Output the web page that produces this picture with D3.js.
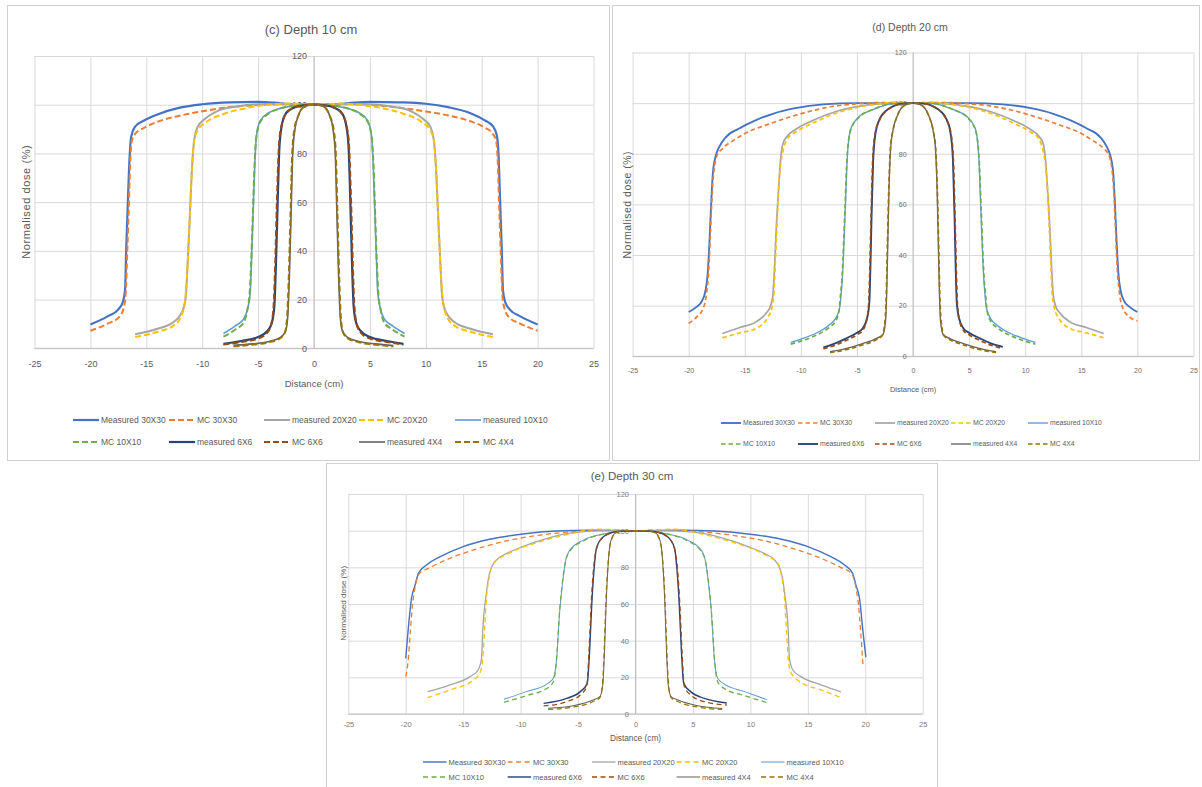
<!DOCTYPE html>
<meta charset="utf-8"/>
<style>
  body { margin: 0; background: #fff; }
  text { font-family: "Liberation Sans", Arial, sans-serif; }
</style>
<svg width="1202" height="787"></svg>
<script src="https://cdn.jsdelivr.net/npm/d3@7"></script>
<script>

var seriesNames = ["Measured 30X30", "MC 30X30", "measured 20X20", "MC 20X20", "measured 10X10",
                   "MC 10X10", "measured 6X6", "MC 6X6", "measured 4X4", "MC 4X4"];
var seriesColors = ["#4472C4", "#ED7D31", "#A5A5A5", "#FFC000", "#5B9BD5",
                    "#70AD47", "#264478", "#9E480E", "#636363", "#997300"];
var seriesDashed = [false, true, false, true, false, true, false, true, false, true];
var xTicks = [-25, -20, -15, -10, -5, 0, 5, 10, 15, 20, 25];
var yTicks = [0, 20, 40, 60, 80, 100, 120];

// depth 10 cm
var c_meas30 = [[-20,9.8],[-18.5,13],[-17.5,16],[-17.1,19],[-16.9,24],[-16.8,40],[-16.65,60],[-16.5,78],[-16.35,87],[-16,91],[-15.2,93.5],[-14,96],[-12,98.8],[-10,100.2],[-7.5,101],[-5,101.2],[-3,100.6],[-1.5,100.1],[0,100],[1.5,100.1],[3,100.6],[5,101.2],[7.5,101],[10,100.4],[12,99],[14,96.5],[15.2,93.8],[16,91.2],[16.35,87.5],[16.5,80],[16.65,60],[16.8,40],[16.9,24],[17.1,19],[17.5,16],[18.5,13],[20,9.8]];
var c_mc30 = [[-20,7.2],[-18.5,10],[-17.4,13],[-17,17],[-16.85,22],[-16.7,40],[-16.55,60],[-16.45,75],[-16.3,85],[-16,88],[-15.2,90.5],[-14,93],[-12,95.5],[-10,97.3],[-8,98.8],[-6,99.6],[-4,100.1],[-2,100.2],[0,100],[2,100.2],[4,100.1],[6,99.6],[8,98.6],[10,97.2],[12,95.6],[14,93.2],[15.2,90.8],[16,88],[16.3,85],[16.45,75],[16.55,60],[16.7,40],[16.85,22],[17,17],[17.4,13],[18.5,10],[20,7.2]];
var c_meas20 = [[-16,5.8],[-14,8],[-12.5,11],[-11.7,16],[-11.45,22],[-11.3,35],[-11.1,55],[-10.9,75],[-10.7,86],[-10.4,91],[-9.8,94],[-8.6,97.5],[-7,99.2],[-5,100.2],[-3,100.3],[-1.5,100.1],[0,100],[1.5,100.1],[3,100.3],[5,100.2],[7,99.2],[8.6,97.5],[9.8,94],[10.4,91],[10.7,86],[10.9,75],[11.1,55],[11.3,35],[11.45,22],[11.7,16],[12.5,11],[14,8],[16,5.8]];
var c_mc20 = [[-16,4.6],[-14,6.8],[-12.5,9.5],[-11.8,14],[-11.5,21],[-11.3,35],[-11.1,55],[-10.9,75],[-10.7,86],[-10.4,89.5],[-9.6,93],[-8,96.3],[-6,98.7],[-4,100],[-2.5,100.5],[-1,100.2],[0,100],[1,100.2],[2.5,100.5],[4,100],[6,98.7],[8,96.3],[9.6,93],[10.4,89.5],[10.7,86],[10.9,75],[11.1,55],[11.3,35],[11.5,21],[11.8,14],[12.5,9.5],[14,6.8],[16,4.6]];
var c_meas10 = [[-8.1,6.1],[-7,9.3],[-6.3,12],[-5.9,17],[-5.7,23],[-5.6,35],[-5.45,55],[-5.3,75],[-5.15,87],[-4.8,93.5],[-4,96.8],[-3,98.5],[-1.5,99.7],[0,100],[1.5,99.7],[3,98.5],[4,96.8],[4.8,93.5],[5.15,87],[5.3,75],[5.45,55],[5.6,35],[5.7,23],[5.9,17],[6.3,12],[7,9.3],[8.1,6.1]];
var c_mc10 = [[-8.1,4.8],[-7,7.8],[-6.3,10.5],[-5.95,16],[-5.75,23],[-5.62,35],[-5.47,55],[-5.32,75],[-5.15,87],[-4.8,93],[-4,96.5],[-3,98.5],[-1.5,99.7],[0,100],[1.5,99.7],[3,98.5],[4,96.5],[4.8,93],[5.15,87],[5.32,75],[5.47,55],[5.62,35],[5.75,23],[5.95,16],[6.3,10.5],[7,7.8],[8.1,4.8]];
var c_meas6 = [[-8.1,1.8],[-6.5,3],[-5,4.6],[-4.2,7],[-3.8,10],[-3.55,17],[-3.4,35],[-3.25,60],[-3.1,82],[-2.9,91],[-2.5,96.5],[-1.8,98.8],[-1,99.7],[0,100],[1,99.7],[1.8,98.8],[2.5,96.5],[2.9,91],[3.1,82],[3.25,60],[3.4,35],[3.55,17],[3.8,10],[4.2,7],[5,4.6],[6.5,3],[8,1.8]];
var c_mc6 = [[-8.1,1.5],[-6.5,2.6],[-5,4],[-4.2,6.3],[-3.85,9.5],[-3.62,17],[-3.47,35],[-3.32,60],[-3.15,82],[-2.95,90.5],[-2.5,96.3],[-1.8,98.8],[-1,99.7],[0,100],[1,99.7],[1.8,98.8],[2.5,96.3],[2.95,90.5],[3.15,82],[3.32,60],[3.47,35],[3.62,17],[3.85,9.5],[4.2,6.3],[5,4],[6.5,2.6],[8,1.5]];
var c_meas4 = [[-7.2,1.2],[-5.5,1.8],[-4,2.8],[-3,4.5],[-2.55,7],[-2.35,13],[-2.2,30],[-2.05,55],[-1.9,80],[-1.7,90],[-1.4,95.5],[-1,98.8],[-0.5,99.8],[0,100],[0.5,99.8],[1,98.8],[1.4,95.5],[1.7,90],[1.9,80],[2.05,55],[2.2,30],[2.35,13],[2.55,7],[3,4.5],[4,2.8],[5.5,1.8],[7.1,1.1]];
var c_mc4 = [[-7.2,0.8],[-5.5,1.5],[-4,2.5],[-3,4.2],[-2.6,6.5],[-2.4,13],[-2.25,30],[-2.1,55],[-1.95,80],[-1.75,90],[-1.4,95.5],[-1,98.8],[-0.5,99.8],[0,100],[0.5,99.8],[1,98.8],[1.4,95.5],[1.75,90],[1.95,80],[2.1,55],[2.25,30],[2.4,13],[2.6,6.5],[3,4.2],[4,2.5],[5.5,1.5],[7.1,0.8]];

// depth 20 cm
var d_meas30 = [[-20,17.5],[-19.3,19.5],[-18.8,22],[-18.5,26],[-18.3,33],[-18.15,45],[-18,60],[-17.85,72],[-17.6,79],[-17.3,82.5],[-16.7,86.5],[-15.5,90],[-14,93.3],[-12.5,95.8],[-10.5,98],[-8,99.5],[-5,100],[-2,100],[0,100],[2,100],[5,100],[8,99.5],[10.5,98],[12.5,95.8],[14,93.3],[15.5,90],[16.7,86.5],[17.3,82.5],[17.6,79],[17.85,72],[18,60],[18.15,45],[18.3,33],[18.5,26],[18.8,22],[19.3,19.5],[20,17.5]];
var d_mc30 = [[-20,13],[-19.3,15.5],[-18.7,19],[-18.4,25],[-18.2,35],[-18.05,50],[-17.9,65],[-17.7,75],[-17.5,79],[-17,82],[-16,85.3],[-15,88],[-13,91.5],[-11,94.5],[-9,97],[-7,98.8],[-5,99.7],[-3,100.2],[-1,100.2],[0,100],[1,100.2],[3,100.2],[5,99.7],[7,98.8],[9,97],[11,94.5],[13,91.5],[15,88],[16,85.3],[17,82],[17.5,79],[17.7,75],[17.9,65],[18.05,50],[18.2,35],[18.4,25],[18.7,19],[19.3,15.5],[20,14]];
var d_meas20 = [[-17,9],[-15.5,11.3],[-14,13.6],[-13.1,17],[-12.7,20],[-12.5,24],[-12.35,35],[-12.2,50],[-12,65],[-11.8,78],[-11.6,84],[-11.2,87],[-10.5,89.5],[-9,93],[-7,96.5],[-5,98.6],[-3,99.7],[-1,100],[0,100],[1,100],[3,99.7],[5,98.6],[7,96.5],[9,93],[10.5,89.5],[11.2,87],[11.6,84],[11.8,78],[12,65],[12.2,50],[12.35,35],[12.5,24],[12.7,20],[13.1,17],[14,13.6],[15.5,11.3],[17,9]];
var d_mc20 = [[-17,7.3],[-15.5,9.2],[-14,11],[-13,15],[-12.6,19],[-12.4,25],[-12.3,35],[-12.15,50],[-12,65],[-11.8,76],[-11.6,81],[-11.2,86],[-10.5,88.5],[-9,92],[-7,95.8],[-5,98.3],[-3,99.8],[-1.5,100.4],[0,100],[1.5,100.4],[3,99.8],[5,98.3],[7,95.8],[9,92],[10.5,88.5],[11.2,86],[11.6,81],[11.8,76],[12,65],[12.15,50],[12.3,35],[12.4,25],[12.6,19],[13,15],[14,11],[15.5,9.2],[17,7.3]];
var d_meas10 = [[-10.9,5.5],[-10,6.8],[-8.7,9],[-7.5,12.3],[-6.9,15],[-6.55,19],[-6.4,25],[-6.3,31],[-6.05,57],[-5.85,79.5],[-5.55,90],[-4.8,94.7],[-3.6,97.4],[-1.8,99.8],[0,100],[1.8,99.8],[3.6,97.4],[4.8,94.7],[5.55,90],[5.85,79.5],[6.05,57],[6.3,31],[6.4,25],[6.55,19],[6.9,15],[7.5,12.3],[8.7,9],[10,6.8],[10.9,5.5]];
var d_mc10 = [[-10.9,4.8],[-10,6],[-8.7,8.2],[-7.5,11.3],[-6.9,14],[-6.6,18],[-6.45,25],[-6.33,31],[-6.08,57],[-5.87,79.5],[-5.55,89.5],[-4.8,94.5],[-3.6,97.4],[-1.8,99.8],[0,100],[1.8,99.8],[3.6,97.4],[4.8,94.5],[5.55,89.5],[5.87,79.5],[6.08,57],[6.33,31],[6.45,25],[6.6,18],[6.9,14],[7.5,11.3],[8.7,8.2],[10,6],[10.9,4.8]];
var d_meas6 = [[-8,3.5],[-7,5],[-6,7],[-5,9.3],[-4.5,11],[-4.1,15],[-3.9,21],[-3.8,35],[-3.7,55],[-3.56,77],[-3.35,88],[-3,93.5],[-2.5,96.6],[-1.8,98.7],[-1,99.8],[0,100],[1,99.8],[1.8,98.7],[2.5,96.6],[3,93.5],[3.35,88],[3.56,77],[3.7,55],[3.8,35],[3.9,21],[4.1,15],[4.5,11],[5,9.3],[6,7],[7,5],[8,3.7]];
var d_mc6 = [[-8,3],[-7,4.3],[-6,6.2],[-5,8.5],[-4.5,10.2],[-4.15,14],[-3.95,21],[-3.85,35],[-3.74,55],[-3.6,77],[-3.38,88],[-3,93.2],[-2.5,96.5],[-1.8,98.7],[-1,99.8],[0,100],[1,99.8],[1.8,98.7],[2.5,96.5],[3,93.2],[3.38,88],[3.6,77],[3.74,55],[3.85,35],[3.95,21],[4.15,14],[4.5,10.2],[5,8.5],[6,6.2],[7,4.3],[8,3]];
var d_meas4 = [[-7.4,1.8],[-6,3],[-4.5,5],[-3.3,7],[-2.7,8.5],[-2.45,14],[-2.35,25],[-2.25,45],[-2.15,65],[-2,82],[-1.8,89],[-1.4,95],[-0.7,99.3],[0,100],[0.7,99.3],[1.4,95],[1.8,89],[2,82],[2.15,65],[2.25,45],[2.35,25],[2.45,14],[2.7,8.5],[3.3,7],[4.5,5],[6,3],[7.4,1.8]];
var d_mc4 = [[-7.4,1.5],[-6,2.6],[-4.5,4.5],[-3.3,6.5],[-2.75,8.2],[-2.5,14],[-2.38,25],[-2.28,45],[-2.17,65],[-2.02,82],[-1.8,89],[-1.4,95],[-0.7,99.3],[0,100],[0.7,99.3],[1.4,95],[1.8,89],[2.02,82],[2.17,65],[2.28,45],[2.38,25],[2.5,14],[2.75,8.2],[3.3,6.5],[4.5,4.5],[6,2.6],[7.4,1.5]];

// depth 30 cm
var e_meas30 = [[-20,30.4],[-19.8,45],[-19.5,63],[-19.2,70],[-18.9,76.7],[-18.2,81.3],[-17,85.8],[-15,91.3],[-12.7,95.3],[-9.8,98.2],[-6.9,99.8],[-4,100.2],[-2,100.1],[0,100],[2,100.1],[4,100.2],[6.9,99.8],[9.8,98.2],[12.7,95.3],[15,91.3],[17,85.8],[18.2,81.3],[18.9,76.7],[19.2,70],[19.5,63],[19.8,45],[20.05,31]];
var e_mc30 = [[-20,20.4],[-19.8,28.5],[-19.6,45],[-19.4,60],[-19.2,68.5],[-18.8,76.7],[-17.9,79.8],[-16.5,84],[-14.1,89.5],[-11.2,94.5],[-8.3,97.6],[-5.4,99.5],[-2.5,100.3],[0,100],[2.5,100.3],[5.4,99.5],[8.3,97.6],[11.2,94.5],[14.1,89.5],[16.5,84],[17.9,79.8],[18.8,76.7],[19.2,68.5],[19.4,60],[19.6,45],[19.8,27]];
var e_meas20 = [[-18.1,12.2],[-16.2,15.8],[-14.4,20.4],[-13.7,24],[-13.4,30.4],[-13.3,45],[-13,65],[-12.8,74],[-12.5,80.4],[-12.1,84],[-11.2,87.6],[-9.8,91.3],[-7.7,95.8],[-5.4,98.9],[-2.5,100],[0,100],[2.5,100],[5.4,98.9],[7.7,95.8],[9.8,91.3],[11.2,87.6],[12.1,84],[12.5,80.4],[12.8,74],[13,65],[13.3,45],[13.4,30.4],[13.7,24],[14.4,20.4],[16.2,15.8],[17.9,12]];
var e_mc20 = [[-18.1,8.9],[-16.2,13],[-14.1,18.5],[-13.5,23],[-13.3,30],[-13.15,45],[-12.95,65],[-12.75,74],[-12.4,82],[-11.2,87],[-8.3,94],[-5.5,98.5],[-3.5,100.8],[-1.5,100.5],[0,100],[1.5,100.5],[3.5,100.8],[5.5,98.5],[8.3,94],[11.2,87],[12.4,82],[12.75,74],[12.95,65],[13.15,45],[13.3,30],[13.5,23],[14.1,18.5],[16.2,13],[17.9,9]];
var e_meas10 = [[-11.45,8],[-9.5,12.2],[-7.7,16.4],[-7.15,19.5],[-6.86,30.4],[-6.6,55.8],[-6.3,74],[-6.1,83],[-5.7,89.5],[-4.5,95],[-2.5,98.5],[-1,99.8],[0,100],[1,99.8],[2.5,98.5],[4.5,95],[5.7,89.5],[6.1,83],[6.3,74],[6.6,55.8],[6.86,30.4],[7.15,19.5],[7.7,16.4],[9.5,12.2],[11.45,7.8]];
var e_mc10 = [[-11.45,6.4],[-9.5,10],[-7.7,14],[-7.15,17.6],[-6.9,28],[-6.62,55],[-6.32,74],[-6.1,83],[-5.7,89],[-4.5,94.5],[-2.5,98.5],[-1,99.8],[0,100],[1,99.8],[2.5,98.5],[4.5,94.5],[5.7,89],[6.1,83],[6.32,74],[6.62,55],[6.9,28],[7.15,17.6],[7.7,14],[9.5,10],[11.45,6.2]];
var e_meas6 = [[-8,5.8],[-6,8.5],[-4.8,12.2],[-4.2,16.7],[-4,34],[-3.8,61],[-3.6,79.5],[-3.4,90.4],[-2.8,96.7],[-1.6,99.5],[0,100],[1.6,99.5],[2.8,96.7],[3.4,90.4],[3.6,79.5],[3.8,61],[4,34],[4.2,16.7],[4.8,12.2],[6,8.5],[7.95,6]];
var e_mc6 = [[-8,4.4],[-6,6.7],[-4.8,10.4],[-4.25,15],[-4.05,34],[-3.85,61],[-3.65,79.5],[-3.4,90],[-2.8,96.5],[-1.6,99.5],[0,100],[1.6,99.5],[2.8,96.5],[3.4,90],[3.65,79.5],[3.85,61],[4.05,34],[4.25,15],[4.8,10.4],[6,6.7],[7.95,4.9]];
var e_meas4 = [[-7.6,3.1],[-5.4,4.5],[-3.7,7.6],[-3.1,9.5],[-2.85,15.8],[-2.7,34],[-2.55,61],[-2.4,79.5],[-2.2,93],[-1.8,98.5],[-1.05,100],[0,100],[1.05,100],[1.8,98.5],[2.2,93],[2.4,79.5],[2.55,61],[2.7,34],[2.85,15.8],[3.1,9.5],[3.7,7.6],[5.4,4.5],[7.55,3]];
var e_mc4 = [[-7.6,2.5],[-5.4,3.8],[-3.7,6.8],[-3.1,9],[-2.88,15.8],[-2.73,34],[-2.58,61],[-2.42,79.5],[-2.2,92.5],[-1.8,98.3],[-1.05,100],[0,100],[1.05,100],[1.8,98.3],[2.2,92.5],[2.42,79.5],[2.58,61],[2.73,34],[2.88,15.8],[3.1,9],[3.7,6.8],[5.4,3.8],[7.55,2.5]];

var svg = d3.select("svg");

var panels = [
  {title: "(c) Depth 10 cm", series: [c_meas30, c_mc30, c_meas20, c_mc20, c_meas10, c_mc10, c_meas6, c_mc6, c_meas4, c_mc4],
   frame: [7, 5, 609, 460], left: 34.5, right: 593.5, top: 56, bottom: 348.3,
   titleX: 311, titleY: 29, titleSize: 13, tickSize: 9, tickColor: "#595959", xPad: 12.5, yPad: 7,
   xTitleY: 384, xTitleSize: 9.5, yTitleX: 26.5, yTitleY: 201.7, yTitleSize: 11, yTitleSpacing: 0.6,
   legCols: [73, 169, 264, 359, 455], legRows: [420, 442], legLen: 26, legSize: 8.5,
   widthScale: 1, dash: "6,3"},
  {title: "(d) Depth 20 cm", series: [d_meas30, d_mc30, d_meas20, d_mc20, d_meas10, d_mc10, d_meas6, d_mc6, d_meas4, d_mc4],
   frame: [612, 5, 1199, 460], left: 632.6, right: 1193.5, top: 52.5, bottom: 356.3,
   titleX: 910, titleY: 27.3, titleSize: 10.5, tickSize: 7, tickColor: "#6b6b6b", xPad: 11.9, yPad: 6.5,
   xTitleY: 389.3, xTitleSize: 7.5, yTitleX: 627, yTitleY: 204.7, yTitleSize: 10.5, yTitleSpacing: 0.5,
   legCols: [721, 798, 875, 951, 1028], legRows: [423, 444], legLen: 20, legSize: 6.8,
   widthScale: 0.85, dash: "4.5,3"},
  {title: "(e) Depth 30 cm", series: [e_meas30, e_mc30, e_meas20, e_mc20, e_meas10, e_mc10, e_meas6, e_mc6, e_meas4, e_mc4],
   frame: [326, 463, 937, 787], left: 348.3, right: 922.7, top: 494, bottom: 714,
   titleX: 632, titleY: 475.7, titleSize: 11.5, tickSize: 7.5, tickColor: "#7a7a7a", xPad: 7.6, yPad: 6.5,
   xTitleY: 737.7, xTitleSize: 8.3, yTitleX: 342.7, yTitleY: 603.3, yTitleSize: 8, yTitleSpacing: 0,
   legCols: [423, 507.6, 592, 676.5, 761], legRows: [762, 777], legLen: 23.5, legSize: 7.5,
   widthScale: 0.65, dash: "5,3.5"}
];

var baseWidths = [2.2, 2, 2, 2, 1.6, 2, 2.2, 2, 1.6, 2];

panels.forEach(function(p) {
  var g = svg.append("g");

  g.append("rect")
      .attr("x", p.frame[0] + 0.5).attr("y", p.frame[1] + 0.5)
      .attr("width", p.frame[2] - p.frame[0]).attr("height", p.frame[3] - p.frame[1])
      .attr("fill", "#fff").attr("stroke", "#d0d0d0");

  var x = d3.scaleLinear().domain([-25, 25]).range([p.left, p.right]);
  var y = d3.scaleLinear().domain([0, 120]).range([p.bottom, p.top]);

  // gridlines
  g.append("g")
      .attr("transform", "translate(0," + p.bottom + ")")
      .call(d3.axisBottom(x).tickValues(xTicks).tickSize(-(p.bottom - p.top)).tickFormat(""))
      .call(function(a) { a.select(".domain").remove(); a.selectAll("line").attr("stroke", "#d9d9d9"); });
  g.append("g")
      .attr("transform", "translate(" + p.left + ",0)")
      .call(d3.axisLeft(y).tickValues(yTicks).tickSize(-(p.right - p.left)).tickFormat(""))
      .call(function(a) { a.select(".domain").remove(); a.selectAll("line").attr("stroke", "#d9d9d9"); });

  // axis lines through the origin
  g.append("line").attr("x1", p.left).attr("x2", p.right).attr("y1", y(0)).attr("y2", y(0)).attr("stroke", "#bfbfbf");
  g.append("line").attr("x1", x(0)).attr("x2", x(0)).attr("y1", p.top).attr("y2", p.bottom).attr("stroke", "#bfbfbf");

  // tick labels
  g.append("g")
      .attr("transform", "translate(0," + y(0) + ")")
      .call(d3.axisBottom(x).tickValues(xTicks).tickSize(0).tickPadding(p.xPad).tickFormat(function(d) { return String(d); }))
      .call(function(a) { a.select(".domain").remove(); })
      .selectAll("text")
        .attr("fill", p.tickColor).style("font-size", p.tickSize + "px")
        .style("font-family", "Liberation Sans, Arial, sans-serif");
  g.append("g")
      .attr("transform", "translate(" + x(0) + ",0)")
      .call(d3.axisLeft(y).tickValues(yTicks).tickSize(0).tickPadding(p.yPad))
      .call(function(a) { a.select(".domain").remove(); })
      .selectAll("text")
        .attr("fill", p.tickColor).style("font-size", p.tickSize + "px")
        .style("font-family", "Liberation Sans, Arial, sans-serif");

  // titles
  g.append("text")
      .attr("x", p.titleX).attr("y", p.titleY).attr("dy", "0.35em")
      .attr("text-anchor", "middle").attr("fill", "#595959")
      .style("font-size", p.titleSize + "px")
      .text(p.title);
  g.append("text")
      .attr("x", x(0)).attr("y", p.xTitleY).attr("dy", "0.35em")
      .attr("text-anchor", "middle").attr("fill", "#595959")
      .style("font-size", p.xTitleSize + "px")
      .text("Distance (cm)");
  g.append("text")
      .attr("transform", "translate(" + p.yTitleX + "," + p.yTitleY + ") rotate(-90)")
      .attr("dy", "0.35em")
      .attr("text-anchor", "middle").attr("fill", "#595959")
      .style("font-size", p.yTitleSize + "px")
      .style("letter-spacing", p.yTitleSpacing + "px")
      .text("Normalised dose (%)");

  // profiles
  var line = d3.line()
      .x(function(d) { return x(d[0]); })
      .y(function(d) { return y(d[1]); })
      .curve(d3.curveMonotoneX);

  p.series.forEach(function(s, i) {
    g.append("path")
        .datum(s)
        .attr("fill", "none")
        .attr("stroke", seriesColors[i])
        .attr("stroke-width", baseWidths[i] * p.widthScale)
        .attr("stroke-dasharray", seriesDashed[i] ? p.dash : null)
        .attr("d", line);
  });

  // legend
  seriesNames.forEach(function(name, i) {
    var lx = p.legCols[i % 5], ly = p.legRows[Math.floor(i / 5)];
    g.append("line")
        .attr("x1", lx).attr("x2", lx + p.legLen).attr("y1", ly).attr("y2", ly)
        .attr("stroke", seriesColors[i])
        .attr("stroke-width", baseWidths[i] * p.widthScale)
        .attr("stroke-dasharray", seriesDashed[i] ? p.dash : null);
    g.append("text")
        .attr("x", lx + p.legLen + 2).attr("y", ly).attr("dy", "0.35em")
        .attr("fill", "#595959")
        .style("font-size", p.legSize + "px")
        .text(name);
  });
});

</script>
